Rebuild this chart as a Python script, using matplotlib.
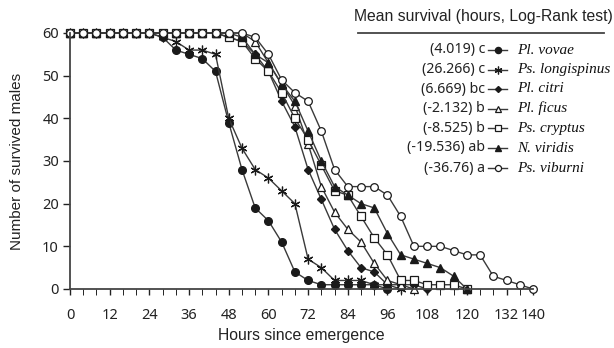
import matplotlib
matplotlib.use("Agg")
import matplotlib.pyplot as plt
from matplotlib.lines import Line2D

# survival counts read every 4 hours, each series runs until it reaches 0
hours = [0, 4, 8, 12, 16, 20, 24, 28, 32, 36, 40, 44, 48, 52, 56, 60, 64, 68,
         72, 76, 80, 84, 88, 92, 96, 100, 104, 108, 112, 116, 120, 124, 128,
         132, 136, 140]

vovae = [60, 60, 60, 60, 60, 60, 60, 59, 56, 55, 54, 51, 39, 28, 19, 16, 11, 4,
         2, 1, 1, 1, 1, 1, 0]
longispinus = [60, 60, 60, 60, 60, 60, 60, 59, 58, 56, 56, 55, 40, 33, 28, 26,
               23, 20, 7, 5, 2, 2, 2, 1, 1, 0]
citri = [60, 60, 60, 60, 60, 60, 60, 60, 60, 60, 60, 60, 59, 58, 55, 51, 44, 38,
         28, 21, 14, 9, 5, 4, 1, 1, 1, 0]
ficus = [60, 60, 60, 60, 60, 60, 60, 60, 60, 60, 60, 60, 60, 60, 58, 53, 48, 43,
         34, 24, 18, 14, 11, 6, 2, 1, 0]
cryptus = [60, 60, 60, 60, 60, 60, 60, 60, 60, 60, 60, 60, 59, 58, 54, 51, 46,
           40, 35, 29, 23, 22, 17, 12, 8, 2, 2, 1, 1, 1, 0]
viridis = [60, 60, 60, 60, 60, 60, 60, 60, 60, 60, 60, 60, 60, 59, 55, 53, 48,
           44, 37, 30, 24, 22, 20, 19, 13, 8, 7, 6, 5, 3, 0]
viburni = [60, 60, 60, 60, 60, 60, 60, 60, 60, 60, 60, 60, 60, 60, 59, 55, 49,
           46, 44, 37, 28, 24, 24, 24, 22, 17, 10, 10, 10, 9, 8, 8, 3, 2, 1, 0]

species = ["Pl. vovae", "Ps. longispinus", "Pl. citri", "Pl. ficus",
           "Ps. cryptus", "N. viridis", "Ps. viburni"]
mean_labels = ["(4.019) c", "(26.266) c", "(6.669) bc", "(-2.132) b",
               "(-8.525) b", "(-19.536) ab", "(-36.76) a"]
series = [vovae, longispinus, citri, ficus, cryptus, viridis, viburni]

line_col = "#3a3a3a"
mk_col = "#1a1a1a"
styles = [
    dict(marker="o", ms=5.5, mfc=mk_col, mec=mk_col),
    dict(marker=(6, 2, 0), ms=7, mfc=mk_col, mec=mk_col, mew=0.9),
    dict(marker="D", ms=3.8, mfc=mk_col, mec=mk_col),
    dict(marker="^", ms=6, mfc="white", mec=mk_col, mew=0.9),
    dict(marker="s", ms=5.5, mfc="white", mec=mk_col, mew=0.9),
    dict(marker="^", ms=6, mfc=mk_col, mec=mk_col),
    dict(marker="o", ms=5.5, mfc="white", mec=mk_col, mew=0.9),
]

num_font = "Noto Sans"
lab_font = "Liberation Sans"

fig = plt.figure(figsize=(6.14, 3.48), dpi=100)
W, H = 614, 348
ax = fig.add_axes([70 / W, (H - 289) / H, (533 - 70) / W, (289 - 33) / H])

for vals, st in zip(series, styles):
    ax.plot(hours[:len(vals)], vals, color=line_col, lw=1.0, clip_on=False, **st)

ax.set_xlim(0, 140)
ax.set_ylim(0, 60)
ax.spines["top"].set_visible(False)
ax.spines["right"].set_visible(False)
for s in ("left", "bottom"):
    ax.spines[s].set_color("#444444")
    ax.spines[s].set_linewidth(1.3)

ax.set_xticks([0, 12, 24, 36, 48, 60, 72, 84, 96, 108, 120, 132, 140])
ax.set_xticks(list(range(0, 141, 4)), minor=True)
ax.set_yticks([0, 10, 20, 30, 40, 50, 60])
ax.tick_params(axis="both", direction="out", colors="#222222", width=1.0,
               labelsize=10.5)
ax.tick_params(axis="x", which="both", length=4, pad=10)
ax.tick_params(axis="y", length=5, pad=3)
for lbl in ax.get_xticklabels() + ax.get_yticklabels():
    lbl.set_fontfamily(num_font)

ax.set_xlabel("Hours since emergence", fontfamily=lab_font, fontsize=11.3,
              color="#222222", labelpad=3)
ax.set_ylabel("Number of survived males", fontfamily=lab_font, fontsize=11,
              color="#222222", labelpad=13)

# legend drawn by hand in pixel positions
fig.text(483 / W, 1 - 17 / H, "Mean survival (hours, Log-Rank test)",
         ha="center", va="center", fontfamily=lab_font, fontsize=11.3,
         color="#222222")
fig.add_artist(Line2D([358 / W, 604 / W], [1 - 33 / H, 1 - 33 / H],
                      color="#444444", lw=1.3, transform=fig.transFigure))
row_y = [50, 70, 89, 108.5, 128.5, 148, 168]
for yp, lab, sp, st in zip(row_y, mean_labels, species, styles):
    yf = 1 - yp / H
    fig.text(485 / W, yf, lab, ha="right", va="center", fontfamily=num_font,
             fontsize=10.2, color="#222222")
    fig.add_artist(Line2D([488 / W, 507 / W], [yf, yf], color=line_col, lw=1.0,
                          transform=fig.transFigure))
    st_leg = dict(st)
    st_leg["ms"] = st["ms"] * 0.8
    fig.add_artist(Line2D([497.5 / W], [yf], color=line_col, lw=0,
                          transform=fig.transFigure, **st_leg))
    fig.text(517 / W, yf, sp, ha="left", va="center",
             fontfamily="Liberation Serif", style="italic", fontsize=11,
             color="#111111")

fig.savefig("out.png", dpi=100)
